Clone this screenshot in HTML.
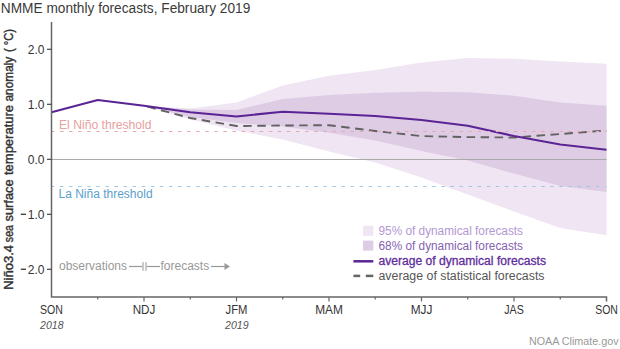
<!DOCTYPE html>
<html><head><meta charset="utf-8"><style>
html,body{margin:0;padding:0;background:#fff;}
body{width:620px;height:349px;overflow:hidden;font-family:"Liberation Sans",sans-serif;}
svg{display:block}
</style></head><body>
<svg width="620" height="349" viewBox="0 0 620 349">
<path d="M144.00,105.75 L190.25,108.50 L236.50,102.40 L282.75,85.60 L329.00,75.70 L375.25,70.00 L421.50,62.50 L467.75,58.00 L514.00,58.70 L560.25,61.50 L606.50,63.70 L606.50,235.20 L560.25,228.00 L514.00,211.50 L467.75,194.50 L421.50,177.50 L375.25,162.50 L329.00,151.50 L282.75,139.50 L236.50,130.60 L190.25,119.50 L144.00,105.75 Z" fill="#efe5f3"/>
<path d="M144.00,105.75 L190.25,109.50 L236.50,110.00 L282.75,99.00 L329.00,95.10 L375.25,92.70 L421.50,91.70 L467.75,92.20 L514.00,95.80 L560.25,102.50 L606.50,105.80 L606.50,192.00 L560.25,186.00 L514.00,173.50 L467.75,160.50 L421.50,151.00 L375.25,140.50 L329.00,132.80 L282.75,126.40 L236.50,123.00 L190.25,117.00 L144.00,105.75 Z" fill="#decce5"/>
<line x1="52" y1="159.5" x2="606.5" y2="159.5" stroke="#aaaaaa" stroke-width="1"/>
<polyline points="144.00,105.75 190.25,118.00 236.50,126.00 282.75,125.50 329.00,125.20 375.25,131.00 421.50,136.10 467.75,137.10 514.00,137.50 560.25,134.00 606.50,130.50" fill="none" stroke="#626262" stroke-width="1.9" stroke-dasharray="8.5 5.5" stroke-dashoffset="-3.55"/>
<polyline points="51.50,112.20 97.75,100.00 144.00,105.75 190.25,112.20 236.50,116.40 282.75,111.70 329.00,113.80 375.25,116.00 421.50,120.00 467.75,125.70 514.00,136.00 560.25,144.50 606.50,149.70" fill="none" stroke="#5a2494" stroke-width="2" stroke-linejoin="round"/>
<line x1="52" y1="131.5" x2="606.5" y2="131.5" stroke="#eaa6b0" stroke-width="1" stroke-dasharray="3.4 5.68" stroke-dashoffset="-8"/>
<line x1="52" y1="186.5" x2="606.5" y2="186.5" stroke="#a0c6e6" stroke-width="1" stroke-dasharray="3.4 5.68" stroke-dashoffset="-8"/>
<path d="M51.5 22 V297 H606.5 V301.5" fill="none" stroke="#666" stroke-width="1.5"/>
<line x1="47" y1="49.3" x2="51.5" y2="49.3" stroke="#444" stroke-width="1.2"/>
<line x1="47" y1="104.3" x2="51.5" y2="104.3" stroke="#444" stroke-width="1.2"/>
<line x1="47" y1="159.3" x2="51.5" y2="159.3" stroke="#444" stroke-width="1.2"/>
<line x1="47" y1="214.3" x2="51.5" y2="214.3" stroke="#444" stroke-width="1.2"/>
<line x1="47" y1="269.3" x2="51.5" y2="269.3" stroke="#444" stroke-width="1.2"/>
<line x1="97.75" y1="297" x2="97.75" y2="299.5" stroke="#666" stroke-width="1.2"/>
<line x1="144.00" y1="297" x2="144.00" y2="301.5" stroke="#666" stroke-width="1.2"/>
<line x1="190.25" y1="297" x2="190.25" y2="299.5" stroke="#666" stroke-width="1.2"/>
<line x1="236.50" y1="297" x2="236.50" y2="301.5" stroke="#666" stroke-width="1.2"/>
<line x1="282.75" y1="297" x2="282.75" y2="299.5" stroke="#666" stroke-width="1.2"/>
<line x1="329.00" y1="297" x2="329.00" y2="301.5" stroke="#666" stroke-width="1.2"/>
<line x1="375.25" y1="297" x2="375.25" y2="299.5" stroke="#666" stroke-width="1.2"/>
<line x1="421.50" y1="297" x2="421.50" y2="301.5" stroke="#666" stroke-width="1.2"/>
<line x1="467.75" y1="297" x2="467.75" y2="299.5" stroke="#666" stroke-width="1.2"/>
<line x1="514.00" y1="297" x2="514.00" y2="301.5" stroke="#666" stroke-width="1.2"/>
<line x1="560.25" y1="297" x2="560.25" y2="299.5" stroke="#666" stroke-width="1.2"/>
<text x="0.8" y="12.9" font-family="Liberation Sans, sans-serif" font-size="14" fill="#3a3a3a" textLength="249.5" lengthAdjust="spacingAndGlyphs">NMME monthly forecasts, February 2019</text>
<text transform="translate(12.9,290.5) rotate(-90)" x="0.70" y="0" font-family="Liberation Sans, sans-serif" font-size="12" fill="#333" stroke="#333" stroke-width="0.4" textLength="44.80" lengthAdjust="spacingAndGlyphs">Niño3.4</text>
<text transform="translate(12.9,290.5) rotate(-90)" x="48.30" y="0" font-family="Liberation Sans, sans-serif" font-size="12" fill="#333" stroke="#333" stroke-width="0.4" textLength="17.20" lengthAdjust="spacingAndGlyphs">sea</text>
<text transform="translate(12.9,290.5) rotate(-90)" x="69.00" y="0" font-family="Liberation Sans, sans-serif" font-size="12" fill="#333" stroke="#333" stroke-width="0.4" textLength="42.20" lengthAdjust="spacingAndGlyphs">surface</text>
<text transform="translate(12.9,290.5) rotate(-90)" x="115.50" y="0" font-family="Liberation Sans, sans-serif" font-size="12" fill="#333" stroke="#333" stroke-width="0.4" textLength="70.00" lengthAdjust="spacingAndGlyphs">temperature</text>
<text transform="translate(12.9,290.5) rotate(-90)" x="189.00" y="0" font-family="Liberation Sans, sans-serif" font-size="12" fill="#333" stroke="#333" stroke-width="0.4" textLength="44.80" lengthAdjust="spacingAndGlyphs">anomaly</text>
<text transform="translate(12.9,290.5) rotate(-90)" x="238.50" y="0" font-family="Liberation Sans, sans-serif" font-size="12" fill="#333" stroke="#333" stroke-width="0.4" textLength="23.00" lengthAdjust="spacingAndGlyphs">( °C)</text>
<text x="44.5" y="53.8" font-family="Liberation Sans, sans-serif" font-size="12" fill="#333" text-anchor="end">2.0</text>
<text x="44.5" y="108.8" font-family="Liberation Sans, sans-serif" font-size="12" fill="#333" text-anchor="end">1.0</text>
<text x="44.5" y="163.8" font-family="Liberation Sans, sans-serif" font-size="12" fill="#333" text-anchor="end">0.0</text>
<text x="44.5" y="218.5" font-family="Liberation Sans, sans-serif" font-size="12" fill="#333" text-anchor="end">1.0</text>
<text x="44.5" y="273.5" font-family="Liberation Sans, sans-serif" font-size="12" fill="#333" text-anchor="end">2.0</text>
<rect x="20.8" y="213.60000000000002" width="5.2" height="1.4" fill="#444"/>
<rect x="20.8" y="268.6" width="5.2" height="1.4" fill="#444"/>
<text x="51.50" y="314" font-family="Liberation Sans, sans-serif" font-size="12" fill="#333" text-anchor="middle" textLength="22.9" lengthAdjust="spacingAndGlyphs">SON</text>
<text x="144.00" y="314" font-family="Liberation Sans, sans-serif" font-size="12" fill="#333" text-anchor="middle" textLength="22.7" lengthAdjust="spacingAndGlyphs">NDJ</text>
<text x="236.50" y="314" font-family="Liberation Sans, sans-serif" font-size="12" fill="#333" text-anchor="middle" textLength="21.9" lengthAdjust="spacingAndGlyphs">JFM</text>
<text x="329.00" y="314" font-family="Liberation Sans, sans-serif" font-size="12" fill="#333" text-anchor="middle" textLength="27.7" lengthAdjust="spacingAndGlyphs">MAM</text>
<text x="421.50" y="314" font-family="Liberation Sans, sans-serif" font-size="12" fill="#333" text-anchor="middle" textLength="21.7" lengthAdjust="spacingAndGlyphs">MJJ</text>
<text x="514.00" y="314" font-family="Liberation Sans, sans-serif" font-size="12" fill="#333" text-anchor="middle" textLength="19.6" lengthAdjust="spacingAndGlyphs">JAS</text>
<text x="606.50" y="314" font-family="Liberation Sans, sans-serif" font-size="12" fill="#333" text-anchor="middle" textLength="22.7" lengthAdjust="spacingAndGlyphs">SON</text>
<text x="51.80" y="328.8" font-family="Liberation Sans, sans-serif" font-size="11" font-style="italic" fill="#555" text-anchor="middle" textLength="23.5" lengthAdjust="spacingAndGlyphs">2018</text>
<text x="236.80" y="328.8" font-family="Liberation Sans, sans-serif" font-size="11" font-style="italic" fill="#555" text-anchor="middle" textLength="23.5" lengthAdjust="spacingAndGlyphs">2019</text>
<text x="59" y="128.6" font-family="Liberation Sans, sans-serif" font-size="12" fill="#e8a0a0" textLength="92.5" lengthAdjust="spacingAndGlyphs">El Niño threshold</text>
<text x="58.5" y="197.7" font-family="Liberation Sans, sans-serif" font-size="12" fill="#5b9fcb">La Niña threshold</text>
<text x="59" y="270" font-family="Liberation Sans, sans-serif" font-size="12" fill="#999">observations</text>
<line x1="129" y1="266.5" x2="142.5" y2="266.5" stroke="#999" stroke-width="1.2"/>
<line x1="146.5" y1="266.5" x2="160" y2="266.5" stroke="#999" stroke-width="1.2"/>
<rect x="142.1" y="262.1" width="1.8" height="8.7" fill="#c4c4c4"/>
<rect x="145.1" y="262.1" width="1.8" height="8.7" fill="#c4c4c4"/>
<text x="160.5" y="270" font-family="Liberation Sans, sans-serif" font-size="12" fill="#999">forecasts</text>
<line x1="211" y1="266.5" x2="226" y2="266.5" stroke="#999" stroke-width="1.2"/>
<polygon points="224.5,263 230,266.5 224.5,270" fill="#999"/>
<rect x="363" y="225.8" width="10.3" height="10" fill="#efe5f3"/>
<rect x="363" y="240.6" width="10.3" height="10" fill="#decce5"/>
<line x1="353.4" y1="261.3" x2="373.3" y2="261.3" stroke="#5a2696" stroke-width="2.5"/>
<line x1="353.4" y1="275.9" x2="360.2" y2="275.9" stroke="#666" stroke-width="2.5"/>
<line x1="365.8" y1="275.9" x2="373.3" y2="275.9" stroke="#666" stroke-width="2.5"/>
<text x="378.5" y="235" font-family="Liberation Sans, sans-serif" font-size="12" fill="#b298d2" textLength="144.5" lengthAdjust="spacingAndGlyphs">95% of dynamical forecasts</text>
<text x="378.5" y="250" font-family="Liberation Sans, sans-serif" font-size="12" fill="#8462b2" textLength="144.5" lengthAdjust="spacingAndGlyphs">68% of dynamical forecasts</text>
<text x="378.5" y="265" font-family="Liberation Sans, sans-serif" font-size="12" fill="#5f2e9c" stroke="#5f2e9c" stroke-width="0.3" textLength="167.5" lengthAdjust="spacingAndGlyphs">average of dynamical forecasts</text>
<text x="378.5" y="280" font-family="Liberation Sans, sans-serif" font-size="12" fill="#555" textLength="166" lengthAdjust="spacingAndGlyphs">average of statistical forecasts</text>
<text x="529" y="345.2" font-family="Liberation Sans, sans-serif" font-size="11" fill="#999" textLength="89.5" lengthAdjust="spacingAndGlyphs">NOAA Climate.gov</text>
</svg>
</body></html>
